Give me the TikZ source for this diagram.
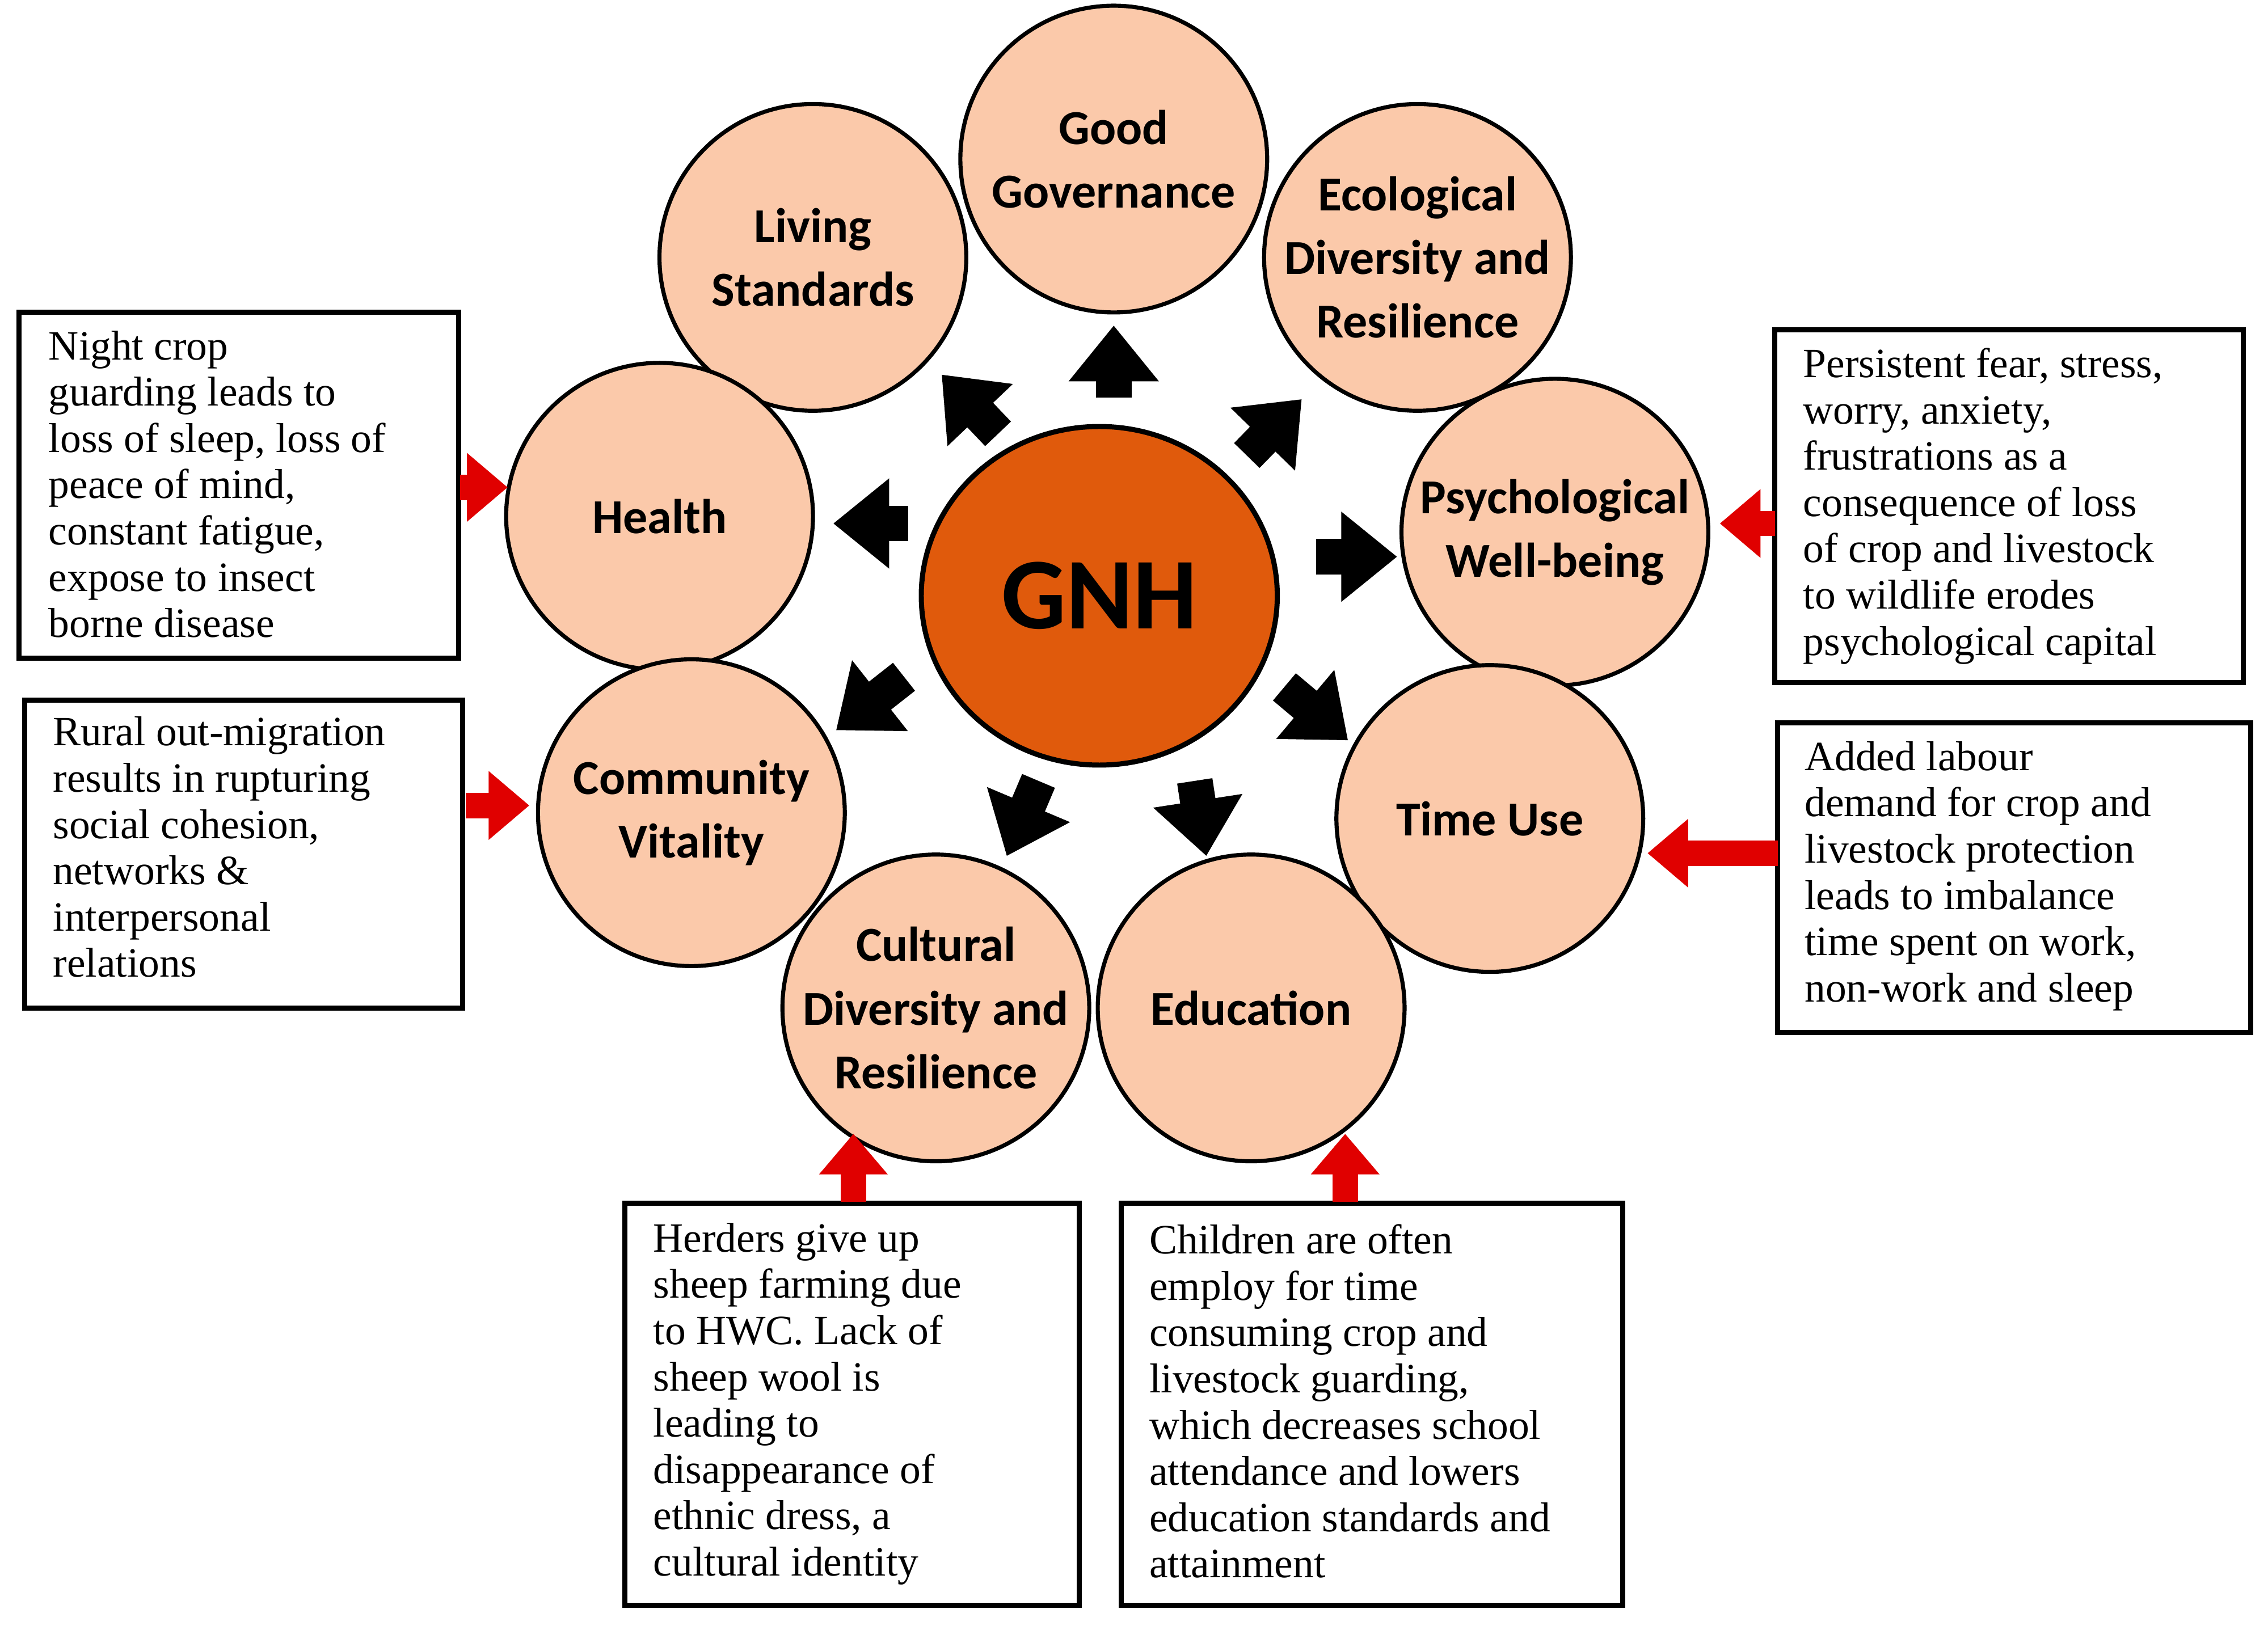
\documentclass[tikz,border=0pt]{standalone}
\usepackage{fontspec}
\setmainfont{Liberation Serif}
\newfontfamily\circfont{Carlito}
\usetikzlibrary{arrows.meta,shapes.geometric}
\begin{document}
\begin{tikzpicture}[x=0.01cm,y=-0.01cm,
  dim/.style={circle,draw=black,line width=0.8pt,fill=peach,minimum size=2.12cm,inner sep=-8pt,align=center,font=\circfont\bfseries\fontsize{9.6}{12.5}\selectfont},
  infobox/.style={draw=black,line width=1pt},
  boxtext/.style={anchor=north west,align=left,inner sep=0pt,font=\fontsize{8.2}{9.1}\selectfont},
  blk/.style={line width=7pt,-{Triangle[width=17pt,length=11pt]}},
  red/.style={draw=redarr,line width=5pt,-{Triangle[width=13pt,length=8pt]}}]
\definecolor{peach}{HTML}{FBC9AA}
\definecolor{gnhc}{HTML}{E05A0C}
\definecolor{redarr}{HTML}{E00000}
\useasboundingbox (0,0) rectangle (1568,1127);
% circles
\node[ellipse,draw=black,line width=1pt,fill=gnhc,minimum width=2.46cm,minimum height=2.34cm,inner sep=0pt,font=\circfont\bfseries\fontsize{20}{24}\selectfont] (gnh) at (760,412) {GNH};
\node[dim] (gg) at (770,110) {Good\\Governance};
\node[dim] (ls) at (562,178) {Living\\Standards};
\node[dim] (ec) at (980,178) {Ecological\\Diversity and\\Resilience};
\node[dim] (he) at (456,357) {Health};
\node[dim] (ps) at (1075,368) {Psychological\\Well-being};
\node[dim] (cv) at (478,562) {Community\\Vitality};
\node[dim] (tu) at (1030,566) {Time Use};
\node[dim] (cd) at (647,697) {Cultural\\Diversity and\\Resilience};
\node[dim] (ed) at (865,697) {Education};
% black arrows
\coordinate (a1) at (770,275); \coordinate (b1) at (770,225);
\coordinate (a2) at (690,300); \coordinate (b2) at (651,259);
\coordinate (a3) at (862,315); \coordinate (b3) at (900,276);
\coordinate (a4) at (628,362); \coordinate (b4) at (576,362);
\coordinate (a5) at (910,385); \coordinate (b5) at (966,385);
\coordinate (a6) at (625,468); \coordinate (b6) at (578,505);
\coordinate (a7) at (888,475); \coordinate (b7) at (932,512);
\coordinate (a8) at (718,540); \coordinate (b8) at (696,592);
\coordinate (a9) at (826,540); \coordinate (b9) at (834,592);
\foreach \i in {1,...,9} \draw[blk] (a\i) -- (b\i);
% boxes
\draw[infobox] (13,216) rectangle (317,455);
\node[boxtext] (t1) at (33,228) {Night crop\\guarding leads to\\loss of sleep, loss of\\peace of mind,\\constant fatigue,\\expose to insect\\borne disease};
\draw[infobox] (17,484) rectangle (320,697);
\node[boxtext] (t2) at (36,495) {Rural out-migration\\results in rupturing\\social cohesion,\\networks \&\\interpersonal\\relations};
\draw[infobox] (1227,228) rectangle (1551,472);
\node[boxtext] (t3) at (1246,240) {Persistent fear, stress,\\worry, anxiety,\\frustrations as a\\consequence of loss\\of crop and livestock\\to wildlife erodes\\psychological capital};
\draw[infobox] (1229,500) rectangle (1556,714);
\node[boxtext] (t4) at (1247,512) {Added labour\\demand for crop and\\livestock protection\\leads to imbalance\\time spent on work,\\non-work and sleep};
\draw[infobox] (432,832) rectangle (746,1110);
\node[boxtext] (t5) at (451,845) {Herders give up\\sheep farming due\\to HWC. Lack of\\sheep wool is\\leading to\\disappearance of\\ethnic dress, a\\cultural identity};
\draw[infobox] (775,832) rectangle (1122,1110);
\node[boxtext] (t6) at (794,846) {Children are often\\employ for time\\consuming crop and\\livestock guarding,\\which decreases school\\attendance and lowers\\education standards and\\attainment};
% red arrows
\coordinate (r1) at (318,337); \coordinate (s1) at (351,337);
\coordinate (r2) at (322,557); \coordinate (s2) at (366,557);
\coordinate (r3) at (1227,362); \coordinate (s3) at (1189,362);
\coordinate (r4) at (1229,590); \coordinate (s4) at (1139,590);
\coordinate (r5) at (590,831); \coordinate (s5) at (590,784);
\coordinate (r6) at (930,831); \coordinate (s6) at (930,784);
\foreach \i in {1,...,6} \draw[red] (r\i) -- (s\i);
\end{tikzpicture}
\end{document}
